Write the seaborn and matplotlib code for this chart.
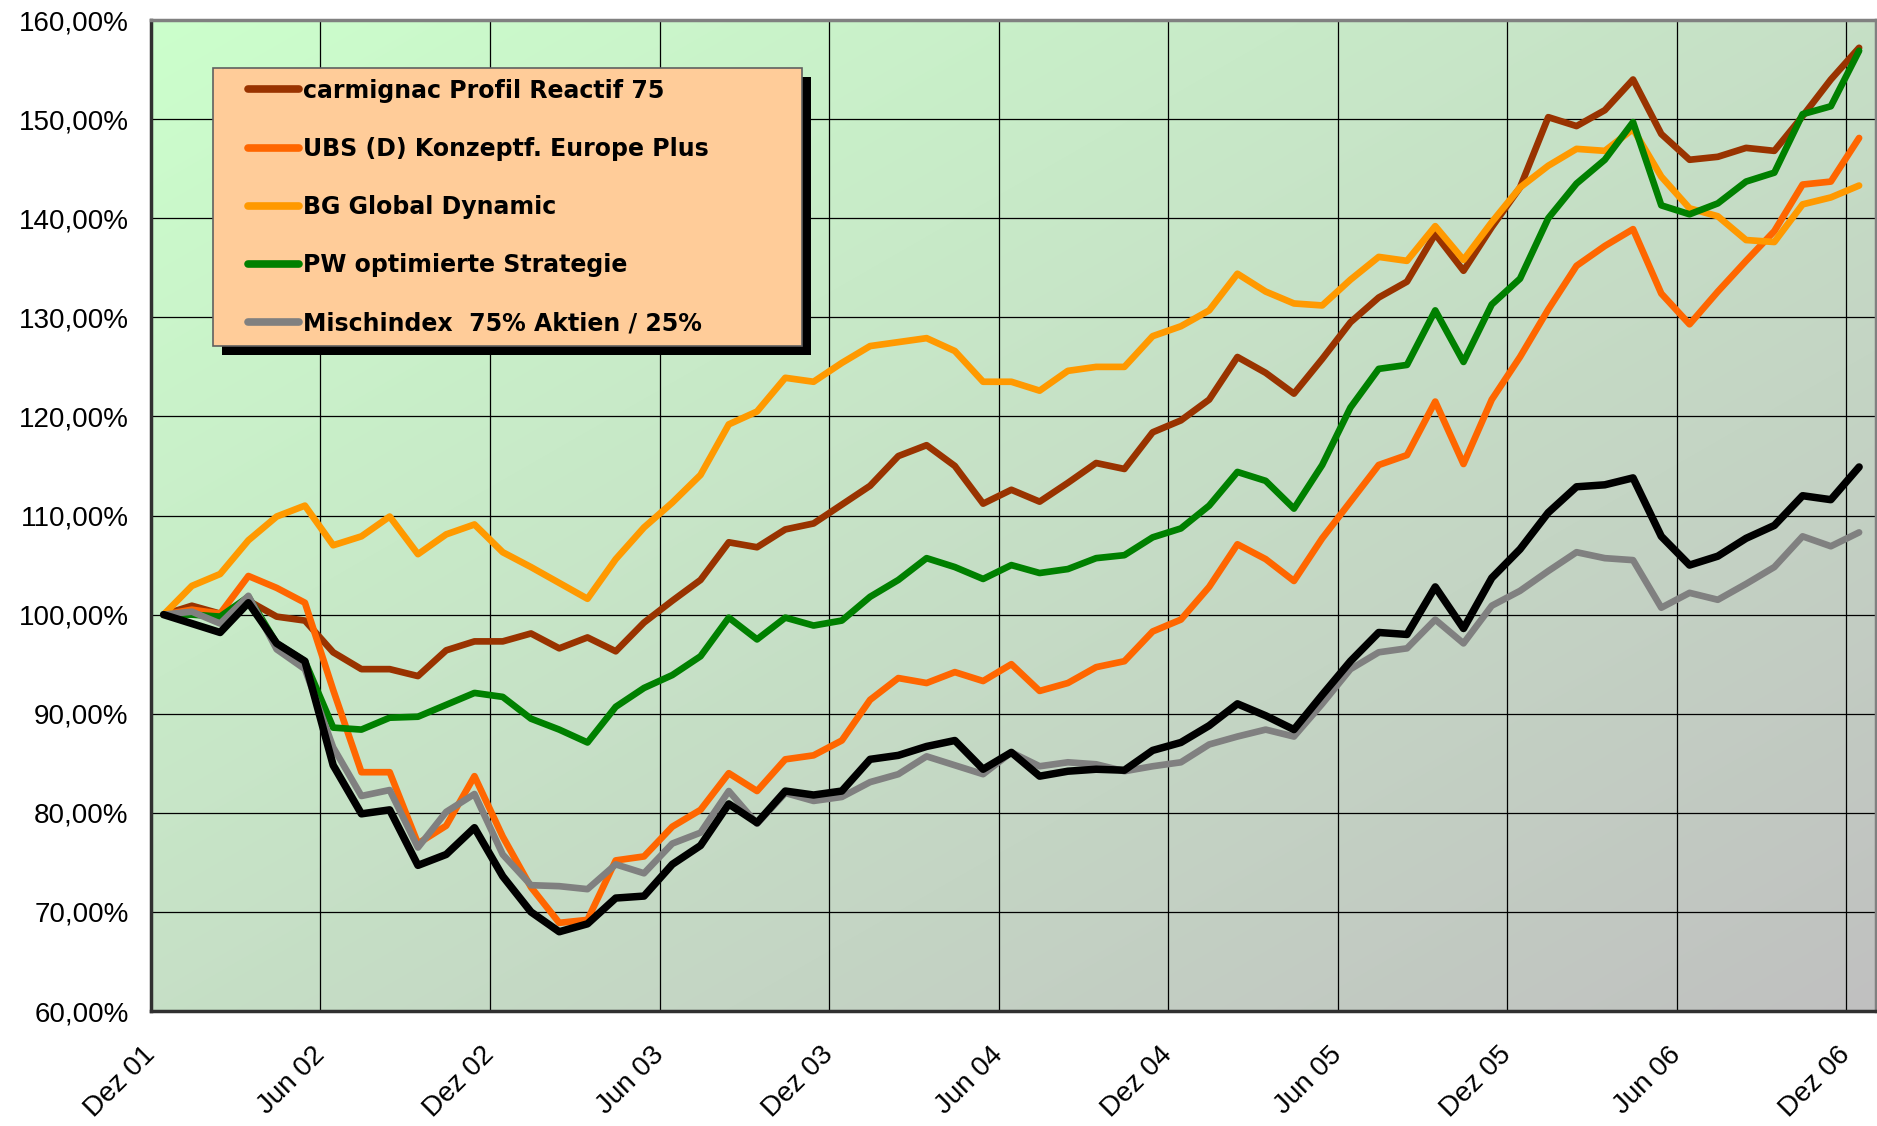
import numpy as np
import pandas as pd
import matplotlib
matplotlib.use("Agg")
import matplotlib.pyplot as plt
import seaborn as sns
from matplotlib.lines import Line2D
from matplotlib.patches import Rectangle
from matplotlib.ticker import FuncFormatter
from matplotlib.transforms import IdentityTransform
from matplotlib.legend_handler import HandlerBase

# x-axis labels (half-year steps, first one at the left edge)
tick_labels = ["Dez 01", "Jun 02", "Dez 02", "Jun 03", "Dez 03", "Jun 04",
               "Dez 04", "Jun 05", "Dez 05", "Jun 06", "Dez 06"]

# monthly values in %
carmignac = [100.0, 100.9, 100.1, 101.4, 99.8, 99.4, 96.2, 94.5, 94.5, 93.8,
             96.4, 97.3, 97.3, 98.1, 96.6, 97.7, 96.3, 99.2, 101.4, 103.5,
             107.3, 106.8, 108.6, 109.2, 111.1, 113.0, 116.0, 117.1, 115.0, 111.2,
             112.6, 111.4, 113.3, 115.3, 114.7, 118.4, 119.6, 121.7, 126.0, 124.4,
             122.3, 125.8, 129.5, 132.0, 133.6, 138.4, 134.7, 139.1, 143.1, 150.2,
             149.3, 150.9, 154.0, 148.5, 145.9, 146.2, 147.1, 146.8, 150.3, 154.0,
             157.2]
ubs = [100.0, 100.5, 100.1, 103.9, 102.7, 101.2, 92.4, 84.1, 84.1, 76.9,
       78.7, 83.7, 77.6, 72.5, 68.9, 69.2, 75.2, 75.6, 78.6, 80.3,
       84.0, 82.2, 85.4, 85.8, 87.3, 91.4, 93.6, 93.1, 94.2, 93.3,
       95.0, 92.3, 93.1, 94.7, 95.3, 98.3, 99.5, 102.8, 107.1, 105.6,
       103.4, 107.7, 111.4, 115.1, 116.1, 121.5, 115.2, 121.7, 126.0, 130.8,
       135.2, 137.2, 138.9, 132.4, 129.3, 132.6, 135.7, 138.7, 143.4, 143.7,
       148.1]
bg_global = [100.0, 102.9, 104.1, 107.5, 109.9, 111.0, 107.0, 107.9, 109.9, 106.1,
             108.1, 109.1, 106.3, 104.8, 103.2, 101.6, 105.6, 108.8, 111.3, 114.1,
             119.2, 120.5, 123.9, 123.5, 125.4, 127.1, 127.5, 127.9, 126.6, 123.5,
             123.5, 122.6, 124.6, 125.0, 125.0, 128.1, 129.1, 130.7, 134.4, 132.6,
             131.4, 131.2, 133.8, 136.1, 135.7, 139.2, 135.8, 139.6, 143.1, 145.3,
             147.0, 146.8, 149.0, 144.2, 141.0, 140.2, 137.8, 137.6, 141.4, 142.1,
             143.3]
pw_strategie = [100.0, 100.0, 99.8, 101.8, 97.1, 95.3, 88.6, 88.4, 89.6, 89.7,
                90.9, 92.1, 91.7, 89.5, 88.4, 87.1, 90.7, 92.6, 93.9, 95.8,
                99.7, 97.5, 99.7, 98.9, 99.4, 101.8, 103.5, 105.7, 104.8, 103.6,
                105.0, 104.2, 104.6, 105.7, 106.0, 107.8, 108.7, 111.0, 114.4, 113.5,
                110.7, 115.1, 120.9, 124.8, 125.2, 130.7, 125.5, 131.3, 133.9, 140.0,
                143.5, 145.9, 149.7, 141.3, 140.4, 141.5, 143.7, 144.6, 150.5, 151.3,
                156.9]
mischindex = [100.0, 100.3, 99.1, 101.9, 96.5, 94.5, 86.6, 81.7, 82.3, 76.5,
              80.1, 81.9, 75.8, 72.7, 72.6, 72.3, 74.8, 73.9, 76.9, 78.0,
              82.2, 78.9, 82.0, 81.2, 81.6, 83.1, 83.9, 85.7, 84.8, 83.9,
              86.1, 84.7, 85.1, 84.9, 84.2, 84.7, 85.1, 86.9, 87.7, 88.4,
              87.7, 91.0, 94.5, 96.2, 96.6, 99.5, 97.1, 100.9, 102.4, 104.4,
              106.3, 105.7, 105.5, 100.7, 102.2, 101.5, 103.1, 104.8, 107.9, 106.9,
              108.3]
black_series = [100.0, 99.1, 98.2, 101.2, 97.1, 95.3, 84.8, 79.9, 80.3, 74.7,
                75.8, 78.5, 73.6, 70.0, 68.0, 68.8, 71.4, 71.6, 74.8, 76.7,
                80.9, 79.0, 82.2, 81.8, 82.2, 85.4, 85.8, 86.7, 87.3, 84.4,
                86.1, 83.7, 84.2, 84.4, 84.3, 86.3, 87.1, 88.8, 91.0, 89.8,
                88.4, 91.9, 95.3, 98.2, 98.0, 102.8, 98.6, 103.7, 106.6, 110.3,
                112.9, 113.1, 113.8, 107.9, 105.0, 105.9, 107.7, 109.0, 112.0, 111.6,
                114.9]

series_names = ["carmignac Profil Reactif 75", "UBS (D) Konzeptf. Europe Plus",
                "BG Global Dynamic", "PW optimierte Strategie",
                "Mischindex  75% Aktien / 25%", "Vergleich"]
series_values = [carmignac, ubs, bg_global, pw_strategie, mischindex, black_series]
series_colors = ["#993300", "#FF6600", "#FF9900", "#008000", "#808080", "#000000"]


def pct_fmt(v, pos):
    return f"{v:.2f}%".replace(".", ",")


class PaddedLine(HandlerBase):
    # legend line that leaves some empty space on its left, like Excel does
    def create_artists(self, legend, orig_handle, xdescent, ydescent,
                       width, height, fontsize, trans):
        y = height / 2 - ydescent
        x0 = -xdescent + 0.32 * width
        ln = Line2D([x0, -xdescent + width], [y, y], color=orig_handle.get_color(),
                    lw=orig_handle.get_linewidth(), solid_capstyle="round",
                    transform=trans)
        return [ln]


def main():
    sns.set_theme(style="white")
    plt.rcParams["font.family"] = ["Liberation Sans", "DejaVu Sans"]

    months = np.arange(len(carmignac)) + 0.45
    frames = []
    for name, vals in zip(series_names, series_values):
        frames.append(pd.DataFrame({"Monat": months, "Wert": vals, "Serie": name}))
    df = pd.concat(frames, ignore_index=True)

    fig = plt.figure(figsize=(18.77, 11.26), dpi=100)
    ax = fig.add_axes([0.0804, 0.1021, 0.9191, 0.8801])

    # diagonal green -> grey background (top-left light green, bottom-right grey)
    gx, gy = np.meshgrid(np.linspace(0, 1, 300), np.linspace(0, 1, 300))
    t = ((gx + gy) / 2)[..., None]
    top = np.array([204, 255, 204]) / 255
    bot = np.array([192, 192, 192]) / 255
    grad = top * (1 - t) + bot * t
    ax.imshow(grad, extent=(0, 1, 0, 1), transform=ax.transAxes,
              aspect="auto", zorder=0, interpolation="bilinear")

    sns.lineplot(data=df, x="Monat", y="Wert", hue="Serie", hue_order=series_names,
                 palette=dict(zip(series_names, series_colors)), linewidth=4.8,
                 legend=False, sort=False, ax=ax,
                 solid_capstyle="round", solid_joinstyle="round")
    ax.lines[-1].set_linewidth(5.4)

    ax.set_xlim(0, 61.05)
    ax.set_ylim(60, 160)
    ax.set_xticks(np.arange(0, 61, 6))
    ax.set_xticklabels(tick_labels, rotation=45, ha="right", va="center",
                       rotation_mode="anchor")
    ax.set_yticks(np.arange(60, 161, 10))
    ax.yaxis.set_major_formatter(FuncFormatter(pct_fmt))
    ax.set_xlabel("")
    ax.set_ylabel("")

    ax.set_axisbelow(True)
    ax.grid(True, color="black", linewidth=0.9)
    for side, sp in ax.spines.items():
        sp.set_color("#303030" if side in ("left", "bottom") else "#808080")
        sp.set_linewidth(2.5)
    ax.tick_params(axis="both", which="major", length=7, width=1.2, color="#404040",
                   labelsize=20, labelcolor="black", direction="out")
    ax.tick_params(axis="y", pad=9)
    ax.tick_params(axis="x", pad=22)

    handles = [Line2D([0], [0], color=c, lw=5.5) for c in series_colors[:5]]
    leg = ax.legend(handles, series_names[:5], loc="upper left", mode="expand",
                    bbox_to_anchor=(0.0359, 0.682, 0.3415, 0.2696), borderaxespad=0,
                    prop={"family": "DejaVu Sans", "weight": "bold", "size": 17},
                    labelcolor="black",
                    frameon=True, fancybox=False, facecolor="#FFCC99",
                    edgecolor="#606060", framealpha=1, handlelength=3.2,
                    handletextpad=0.15, labelspacing=1.45, borderpad=0.45,
                    handler_map={Line2D: PaddedLine()})
    leg.get_frame().set_linewidth(1.2)
    leg.set_zorder(6)

    # hard black drop shadow behind the legend box
    fig.canvas.draw()
    bb = leg.get_window_extent()
    ax.add_patch(Rectangle((bb.x0 + 9, bb.y0 - 9), bb.width, bb.height,
                           transform=IdentityTransform(), facecolor="black",
                           edgecolor="none", zorder=5.5, clip_on=False))

    fig.savefig("out.png", dpi=100)
    plt.close(fig)


if __name__ == "__main__":
    main()
